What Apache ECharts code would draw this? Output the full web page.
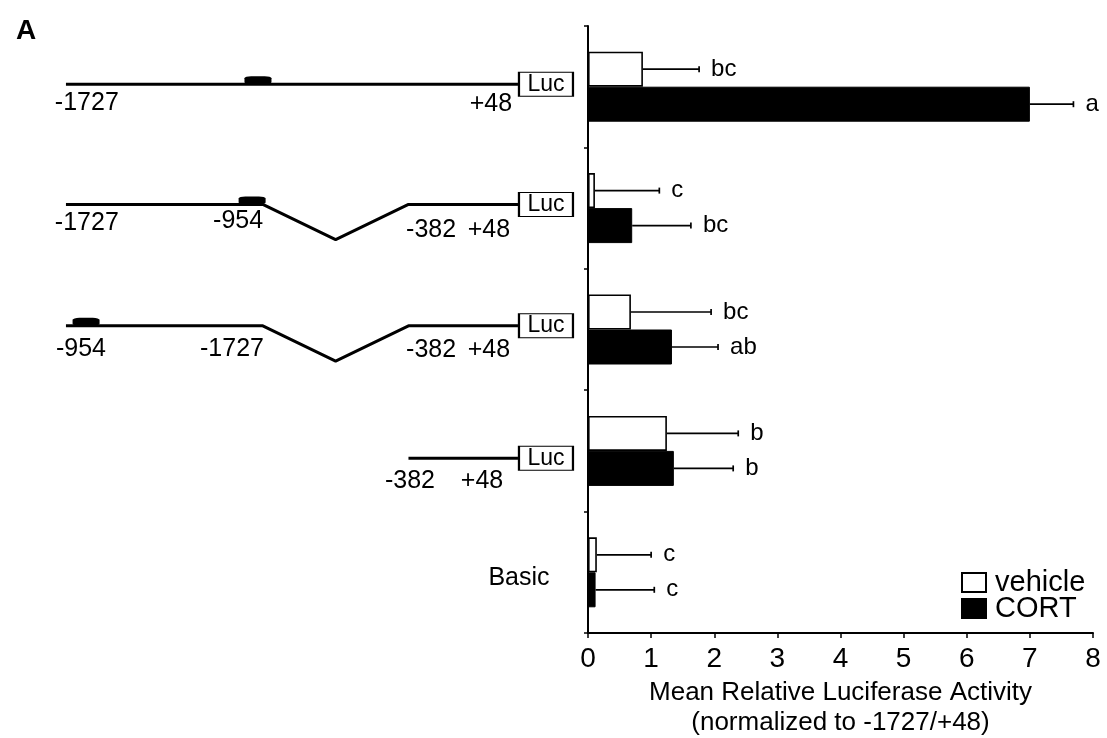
<!DOCTYPE html>
<html>
<head>
<meta charset="utf-8">
<script src="https://cdn.jsdelivr.net/npm/echarts@6/dist/echarts.min.js"></script>
<style>
html,body{margin:0;padding:0;background:#fff;}
#chart{width:1107px;height:738px;}
</style>
</head>
<body>
<div id="chart"></div>
<script>
// ---------- bar chart data ----------
const categories = ['-1727/+48', '-1727/-954 + -382/+48', '-954/-1727 (inverted) + -382/+48', '-382/+48', 'Basic'];
const vehicle    = [0.87, 0.11, 0.68, 1.25, 0.14];
const vehicleErr = [0.89, 1.02, 1.27, 1.13, 0.86];
const vehicleSig = ['bc', 'c', 'bc', 'b', 'c'];
const cort       = [7.00, 0.70, 1.33, 1.36, 0.12];
const cortErr    = [0.69, 0.93, 0.73, 0.94, 0.93];
const cortSig    = ['a', 'bc', 'ab', 'b', 'c'];
const xTicks     = [0, 1, 2, 3, 4, 5, 6, 7, 8];

// ---------- construct diagram data (bp positions, row units) ----------
const rowLevels = [0.48, 1.47, 2.47, 3.56];
const constructPaths = [
  [[-1727, 0], [48, 0]],
  [[-1727, 0], [-954, 0], [-668, 0.29], [-382, 0], [48, 0]],
  [[-1727, 0], [-954, 0], [-668, 0.29], [-382, 0], [48, 0]],
  [[-382, 0], [48, 0]]
];
const elementRows = [0, 1, 2];
const elementPos  = [-973, -996, -1648];
const lucRows     = [0, 1, 2, 3];
const lucPos      = 48;
const labelText = ['-1727', '+48', '-1727', '-954', '-382', '+48', '-954', '-1727', '-382', '+48', '-382', '+48', 'Basic'];
const labelX    = [-1645, -58, -1645, -1051, -293, -66, -1668, -1075, -293, -66, -376, -93, 52];
const labelY    = [0.634, 0.643, 1.623, 1.606, 1.680, 1.680, 2.661, 2.661, 2.669, 2.669, 3.748, 3.748, 4.547];

const FONT = '"Liberation Sans", Arial, sans-serif';
const BAR_W = 35;

function errSeries(name, vals, errs, sig, dir) {
  return {
    type: 'custom',
    name: name + ' err',
    xAxisIndex: 0, yAxisIndex: 0,
    silent: true,
    z: 5,
    data: vals.map((v, i) => [v, i, errs[i]]),
    renderItem: function (params, api) {
      const v = api.value(0), c = api.value(1), e = api.value(2);
      const s = api.coord([v, c]);
      const t = api.coord([v + e, c]);
      const y = s[1] + dir * BAR_W / 2;
      return {
        type: 'group',
        children: [
          { type: 'line', shape: { x1: s[0], y1: y, x2: t[0], y2: y }, style: { stroke: '#000', lineWidth: 1.7 } },
          { type: 'line', shape: { x1: t[0], y1: y - 3, x2: t[0], y2: y + 3 }, style: { stroke: '#000', lineWidth: 1.7 } },
          { type: 'text', x: t[0] + 12, y: y, style: { text: sig[params.dataIndex], fill: '#000', fontSize: 24, fontFamily: FONT, align: 'left', verticalAlign: 'middle' } }
        ]
      };
    }
  };
}

const series = [
  {
    type: 'bar', name: 'vehicle', xAxisIndex: 0, yAxisIndex: 0,
    data: vehicle, barWidth: BAR_W, barGap: '0%',
    itemStyle: { color: '#fff', borderColor: '#000', borderWidth: 1.6 },
    silent: true
  },
  {
    type: 'bar', name: 'CORT', xAxisIndex: 0, yAxisIndex: 0,
    data: cort, barWidth: BAR_W, barGap: '0%',
    itemStyle: { color: '#000', borderColor: '#000', borderWidth: 1 },
    silent: true
  },
  errSeries('vehicle', vehicle, vehicleErr, vehicleSig, -1),
  errSeries('CORT', cort, cortErr, cortSig, 1)
];

// construct lines
constructPaths.forEach((path, r) => {
  series.push({
    type: 'line', xAxisIndex: 1, yAxisIndex: 1, silent: true,
    showSymbol: false, symbol: 'none',
    lineStyle: { color: '#000', width: 3 },
    data: path.map(p => [p[0], rowLevels[r] + p[1]])
  });
});
// regulatory element boxes
series.push({
  type: 'scatter', xAxisIndex: 1, yAxisIndex: 1, silent: true,
  symbol: 'roundRect', symbolSize: [27, 8], symbolOffset: [0, -4],
  itemStyle: { color: '#000', opacity: 1 },
  data: elementRows.map((r, i) => [elementPos[i], rowLevels[r]]),
  z: 4
});
// Luc boxes
series.push({
  type: 'scatter', xAxisIndex: 1, yAxisIndex: 1, silent: true,
  symbol: 'rect', symbolSize: [54, 24], symbolOffset: [28, 0],
  itemStyle: { color: '#fff', borderColor: '#000', borderWidth: 1.5, opacity: 1 },
  label: { show: true, position: 'inside', formatter: 'Luc', color: '#000', fontSize: 23, fontFamily: FONT },
  data: lucRows.map(r => [lucPos, rowLevels[r]]),
  z: 4
});
// diagram labels
series.push({
  type: 'scatter', xAxisIndex: 1, yAxisIndex: 1, silent: true,
  symbolSize: 0,
  itemStyle: { opacity: 1 },
  label: { show: true, position: 'inside', formatter: p => p.name, color: '#000', fontSize: 25, fontFamily: FONT },
  data: labelText.map((t, i) => ({ name: t, value: [labelX[i], labelY[i]] }))
});

const option = {
  backgroundColor: '#fff',
  animation: false,
  title: {
    text: 'A', left: 11, top: 12,
    textStyle: { fontSize: 28, fontWeight: 'bold', color: '#000', fontFamily: FONT }
  },
  legend: {
    data: ['vehicle', 'CORT'],
    orient: 'vertical',
    left: 961, top: 568,
    icon: 'rect',
    itemWidth: 24, itemHeight: 19, itemGap: -3,
    padding: 0,
    textStyle: { fontSize: 29, color: '#000', fontFamily: FONT, lineHeight: 24, padding: [0, 0, 0, 4] },
    selectedMode: false
  },
  grid: [
    { left: 588, right: 14, top: 26, bottom: 105, outerBoundsMode: 'none', containLabel: false },
    { left: 0, width: 588, top: 26, bottom: 105, outerBoundsMode: 'none', containLabel: false }
  ],
  xAxis: [
    {
      type: 'value', gridIndex: 0, min: 0, max: 8, interval: 1,
      splitLine: { show: false },
      axisLine: { show: true, lineStyle: { color: '#000', width: 2 } },
      axisTick: { show: true, length: 5, lineStyle: { color: '#000', width: 1.5 } },
      axisLabel: { color: '#000', fontSize: 28, fontFamily: FONT, margin: 12,
        formatter: v => (xTicks.indexOf(v) >= 0 ? String(v) : '') },
      name: 'Mean Relative Luciferase Activity\n(normalized to -1727/+48)',
      nameLocation: 'middle', nameGap: 45,
      nameTextStyle: { color: '#000', fontSize: 26, fontFamily: FONT, lineHeight: 30, verticalAlign: 'top' }
    },
    {
      type: 'value', gridIndex: 1, min: -1986, max: 323, show: false,
      splitLine: { show: false }
    }
  ],
  yAxis: [
    {
      type: 'category', gridIndex: 0, data: categories, inverse: true,
      axisLine: { show: true, lineStyle: { color: '#000', width: 2 } },
      axisTick: { show: true, length: 4, lineStyle: { color: '#000', width: 1.5 } },
      axisLabel: { show: false },
      splitLine: { show: false }
    },
    {
      type: 'value', gridIndex: 1, min: 0, max: 5, inverse: true, show: false,
      splitLine: { show: false }
    }
  ],
  series: series
};

const chart = echarts.init(document.getElementById('chart'), null, { renderer: 'canvas' });
chart.setOption(option);
</script>
</body>
</html>
